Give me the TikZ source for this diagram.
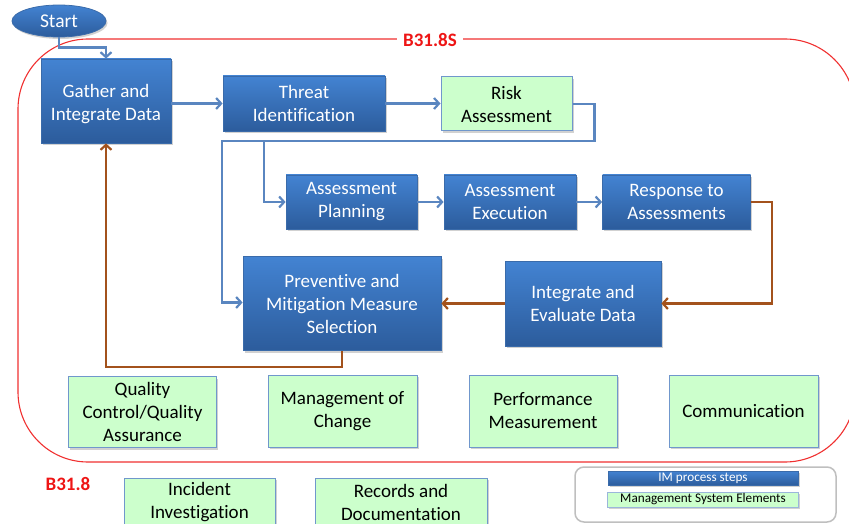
\documentclass[tikz,border=0pt]{standalone}
\usepackage{fontspec}
\setmainfont[Ligatures={NoCommon,NoContextual},Contextuals=NoAlternate]{Carlito}
\usetikzlibrary{arrows.meta,shapes.geometric,shadows}
\definecolor{btop}{HTML}{4383D2}
\definecolor{bbot}{HTML}{2C5C9C}
\definecolor{bedge}{HTML}{3A6BAA}
\definecolor{gfill}{HTML}{CCFFCC}
\definecolor{gedge}{HTML}{7097CC}
\definecolor{conblue}{HTML}{5A86C0}
\definecolor{conbrown}{HTML}{A3521C}
\definecolor{redline}{HTML}{F03030}
\definecolor{redtext}{HTML}{EE1515}
\tikzset{
  shad/.style={drop shadow={shadow xshift=1.5pt,shadow yshift=-2pt,opacity=0.3,fill=black!60}},
  bluebox/.style={shad,draw=bedge,line width=0.8pt,top color=btop,bottom color=bbot,text=white,
    align=center,inner sep=2pt,font=\fontsize{19}{23}\selectfont},
  greenbox/.style={shad,draw=gedge,line width=1pt,fill=gfill,text=black,
    align=center,inner sep=2pt,font=\fontsize{19}{23}\selectfont},
  bcon/.style={draw=conblue,line width=2.6pt,-{Straight Barb[length=5pt,width=11pt,line width=2.2pt]}},
  brcon/.style={draw=conbrown,line width=2.6pt,-{Straight Barb[length=5pt,width=11pt,line width=2.2pt]}},
  lbl/.style={text=redtext,font=\fontsize{19}{23}\selectfont\bfseries},
}
\begin{document}
\begin{tikzpicture}[x=1pt,y=-1pt]
\useasboundingbox (0,0) rectangle (849,524);
% red region
\draw[redline,line width=1.1pt,rounded corners=70pt] (18,39) rectangle (855,462);
\node[lbl,fill=white,inner xsep=6pt,inner ysep=2pt] (b318s) at (430,40) {B31.8S};
\node[lbl] (b318) at (68,484) {B31.8};
% start
\node[ellipse,shad,draw=bedge,line width=0.8pt,top color=btop,bottom color=bbot,text=white,
  minimum width=94pt,minimum height=32pt,inner sep=0pt,font=\fontsize{19.5}{23}\selectfont] (start) at (59,21) {Start};
% process boxes
\node[bluebox,minimum width=130pt,minimum height=84pt,text depth=1pt] (gather) at (106,101) {\raisebox{-3pt}{Gather and}\\\raisebox{-3pt}{Integrate Data}};
\node[bluebox,minimum width=162pt,minimum height=55pt] (threat) at (304,103.5) {Threat\\Identification};
\node[greenbox,minimum width=131pt,minimum height=54pt] (risk) at (506.5,104) {Risk\\Assessment};
\node[bluebox,minimum width=131pt,minimum height=54pt] (plan) at (351.5,202) {Assessment\\Planning};
\node[bluebox,minimum width=132pt,minimum height=54pt] (exec) at (510,202) {Assessment\\Execution};
\node[bluebox,minimum width=148pt,minimum height=54pt] (resp) at (676.5,202) {Response to\\Assessments};
\node[bluebox,minimum width=198pt,minimum height=94pt] (prev) at (342,303.5) {Preventive and\\Mitigation Measure\\Selection};
\node[bluebox,minimum width=156pt,minimum height=85pt] (integ) at (583,303.5) {Integrate and\\Evaluate Data};
% management system elements
\node[greenbox,minimum width=148pt,minimum height=71pt] (qc) at (142.5,412) {Quality\\Control/Quality\\Assurance};
\node[greenbox,minimum width=149pt,minimum height=72pt] (moc) at (342.5,411) {Management of\\Change};
\node[greenbox,minimum width=148pt,minimum height=72pt] (perf) at (543,411) {Performance\\Measurement};
\node[greenbox,minimum width=149pt,minimum height=72pt] (comm) at (743.5,411) {Communication};
\node[greenbox,minimum width=151pt,minimum height=49pt] (inc) at (199.5,502.5) {Incident\\Investigation};
\node[greenbox,minimum width=172pt,minimum height=49pt] (rec) at (401,502.5) {Records and\\Documentation};
% legend
\node[draw=black!25,line width=1.5pt,rounded corners=9pt,minimum width=261pt,minimum height=55pt] (legend) at (705.5,494.5) {};
\node[shad,draw=bedge,line width=0.6pt,top color=btop,bottom color=bbot,text=white,minimum width=190pt,minimum height=14pt,
  inner sep=0pt,font=\fontsize{13.2}{15}\selectfont] (legim) at (703,478) {IM process steps};
\node[shad,draw=gedge!70,line width=0.6pt,fill=gfill,text=black,minimum width=191pt,minimum height=15pt,
  inner sep=0pt,font=\fontsize{13.2}{15}\selectfont] (legms) at (703,499.5) {Management System Elements};
% connectors
\coordinate (c1) at (222,141);
\coordinate (c2) at (264,141);
\draw[bcon] (start.south) |- ([yshift=11pt]gather.north) -- (gather.north);
\draw[bcon] (gather.east |- threat.west) -- (threat.west);
\draw[bcon] (threat.east) -- (risk.west |- threat.east);
\draw[bcon] (risk.east) -- ++(22pt,0) |- (c1) |- ([yshift=1pt]prev.west);
\draw[bcon] (c2) |- (plan.west);
\draw[bcon] (plan.east) -- (exec.west);
\draw[bcon] (exec.east) -- (resp.west);
\draw[brcon] (resp.east) -- ++(21pt,0) |- (integ.east);
\draw[brcon] (integ.west) -- (prev.east);
\draw[brcon] (prev.south) -- ++(0,-16pt) -| (gather.south);
\end{tikzpicture}
\end{document}
